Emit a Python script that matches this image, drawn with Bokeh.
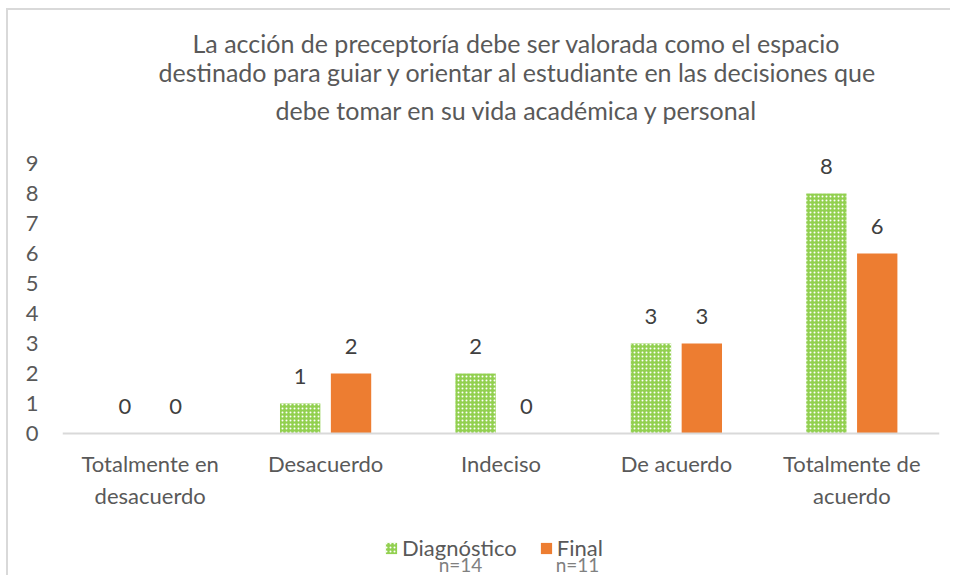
from bokeh.plotting import figure
from bokeh.models import (Range1d, FixedTicker, Title, Legend, LegendItem, Label,
                          ColumnDataSource)
from bokeh.embed import file_html
from bokeh.resources import INLINE
from bokeh.core.properties import value

# ---- data ----
categories = ["Totalmente en\ndesacuerdo", "Desacuerdo", "Indeciso", "De acuerdo", "Totalmente de\nacuerdo"]
diagnostico = [0, 1, 2, 3, 8]
final = [0, 2, 0, 3, 6]
y_ticks = [0, 1, 2, 3, 4, 5, 6, 7, 8, 9]
title_lines = ["La acción de preceptoría debe ser valorada como el espacio",
               "destinado para guiar y orientar al estudiante en las decisiones que",
               "debe tomar en su vida académica y personal"]
series_names = ["Diagnóstico", "Final"]
series_n = ["n=14", "n=11"]

FONT = "Lato"
GREEN = "#92D050"
ORANGE = "#ED7D31"
TXT = "#595959"
DODGE = 0.145
BW = 0.23

idx = list(range(len(categories)))
src = ColumnDataSource(dict(
    xd=[i - DODGE for i in idx], xf=[i + DODGE for i in idx],
    d=diagnostico, f=final,
    dl=[str(v) for v in diagnostico], fl=[str(v) for v in final],
))

p = figure(width=944, height=567, output_backend="svg", toolbar_location=None,
           x_range=Range1d(-0.5, len(categories) - 0.5), y_range=Range1d(-4.8, 10.0),
           min_border_left=54, min_border_right=13, min_border_top=123, min_border_bottom=0)
p.styles = {"margin-left": "6px", "margin-top": "8px",
            "border-top": "2px solid #d9d9d9", "border-left": "2px solid #d9d9d9"}
p.outline_line_color = None
p.xgrid.visible = False
p.ygrid.visible = False
p.background_fill_color = "white"
p.border_fill_color = "white"

rd = p.vbar(x="xd", top="d", width=BW, source=src, fill_color=GREEN, line_color=None,
            hatch_pattern="dot", hatch_color="white", hatch_scale=4, hatch_weight=2.5)
rf = p.vbar(x="xf", top="f", width=BW, source=src, fill_color=ORANGE, line_color=None)

for xcol, ycol, lcol in (("xd", "d", "dl"), ("xf", "f", "fl")):
    p.text(x=xcol, y=ycol, text=lcol, source=src, text_align="center", text_baseline="bottom",
           y_offset=-20, text_font=value(FONT), text_font_size="22px", text_color="#404040")

# axes
p.xaxis.fixed_location = 0
p.xaxis.ticker = FixedTicker(ticks=idx)
p.xaxis.major_label_overrides = {i: c for i, c in zip(idx, categories)}
p.xaxis.major_tick_line_color = None
p.xaxis.minor_tick_line_color = None
p.xaxis.axis_line_color = "#d9d9d9"
p.xaxis.axis_line_width = 2
p.xaxis.major_label_text_font = FONT
p.xaxis.major_label_text_font_size = "22px"
p.xaxis.major_label_text_color = TXT
p.xaxis.major_label_standoff = 10

p.yaxis.ticker = FixedTicker(ticks=y_ticks)
p.yaxis.major_tick_line_color = None
p.yaxis.minor_tick_line_color = None
p.yaxis.axis_line_color = None
p.yaxis.major_label_text_font = FONT
p.yaxis.major_label_text_font_size = "22px"
p.yaxis.major_label_text_color = TXT
p.yaxis.major_label_standoff = 18

# title (stacked lines, bottom line first); left-aligned with per-line offsets
standoffs = [17, -5, 0]
offsets = [213, 96, 130]
for so, off, line in zip(standoffs, offsets, reversed(title_lines)):
    t = Title(text=line, align="left", offset=off, text_font=FONT, text_font_size="25px",
              text_color=TXT, text_font_style="normal", standoff=so)
    p.add_layout(t, "above")

legend = Legend(items=[LegendItem(label=series_names[0], renderers=[rd]),
                       LegendItem(label=series_names[1], renderers=[rf])],
                orientation="horizontal", location=(322, 16),
                label_text_font=FONT, label_text_font_size="22px", label_text_color=TXT,
                glyph_width=14, glyph_height=14, label_standoff=4, spacing=22,
                border_line_color=None, background_fill_alpha=0, margin=0, padding=0)
p.add_layout(legend, "center")

for xv, txt in zip((1.769, 2.436), series_n):
    p.add_layout(Label(x=xv, y=-4.35, text=txt, text_align="center", text_baseline="middle",
                       text_font=FONT, text_font_size="19px", text_color="#808080"))

open("out.html", "w").write(file_html(p, INLINE))
